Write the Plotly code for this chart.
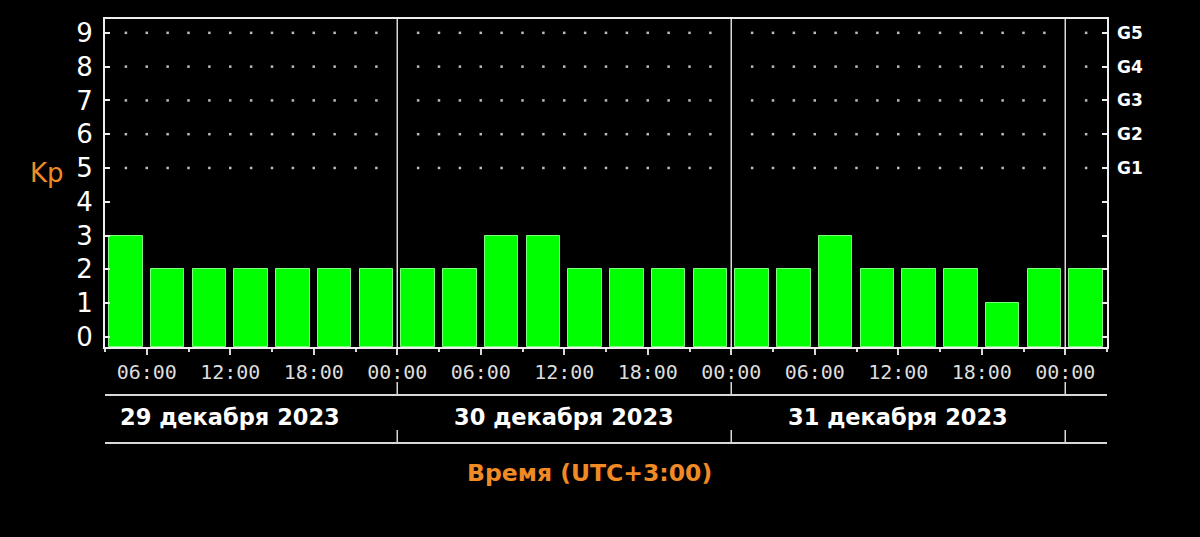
import numpy as np
import pandas as pd
import plotly.graph_objects as go

# Kp index, 3-hour intervals, local time UTC+3
start_time = "2023-12-29 03:00"
end_time = "2024-01-01 03:00"
kp_values = [3, 2, 2, 2, 2, 2, 2,
             2, 2, 3, 3, 2, 2, 2, 2,
             2, 2, 3, 2, 2, 2, 1, 2,
             2]
day_labels = ["29 декабря 2023", "30 декабря 2023", "31 декабря 2023"]
day_noons = ["2023-12-29 12:00", "2023-12-30 12:00", "2023-12-31 12:00"]
day_bounds = ["2023-12-30 00:00", "2023-12-31 00:00", "2024-01-01 00:00"]
kp_ticks = [0, 1, 2, 3, 4, 5, 6, 7, 8, 9]
storm_ticks = [5, 6, 7, 8, 9]
storm_labels = ["G1", "G2", "G3", "G4", "G5"]

Y_MIN, Y_MAX = -0.3, 9.41
HOUR_MS = 3600 * 1000
LINE = "#d9d9d9"
ORANGE = "#f08a24"

bin_start = pd.date_range(start_time, periods=len(kp_values), freq="3h")
bin_mid = bin_start + pd.Timedelta(hours=1.5)

# dotted grid: every 1.5 h at levels G1..G5, skipped on day boundaries
grid_t = pd.date_range(start_time, end_time, freq="90min")[1:-1]
grid_t = grid_t[~grid_t.isin(pd.to_datetime(day_bounds))]
gx, gy = np.meshgrid(grid_t, storm_ticks)

fig = go.Figure()
fig.add_trace(go.Bar(
    x=bin_mid, y=[k - Y_MIN for k in kp_values], base=Y_MIN,
    width=2.4 * HOUR_MS,
    marker=dict(color="#00ff00", line=dict(color="#7dff7d", width=1)),
    customdata=kp_values, hovertemplate="%{x|%d.%m %H:%M}<br>Kp %{customdata}<extra></extra>",
))
fig.add_trace(go.Scatter(
    x=gx.ravel(), y=gy.ravel(), yaxis="y2", mode="markers",
    marker=dict(color="#bdbdbd", size=2.5, symbol="square"),
    hoverinfo="skip",
))

shapes = []
for d in day_bounds:
    shapes.append(dict(type="line", xref="x", yref="paper", x0=d, x1=d, y0=0, y1=1,
                       line=dict(color=LINE, width=1.5)))
    shapes.append(dict(type="line", xref="x", yref="paper", x0=d, x1=d, y0=-0.107, y1=-0.146,
                       line=dict(color=LINE, width=1.5)))
    shapes.append(dict(type="line", xref="x", yref="paper", x0=d, x1=d, y0=-0.253, y1=-0.293,
                       line=dict(color=LINE, width=1.5)))
for yy in [-0.146, -0.293]:
    shapes.append(dict(type="line", xref="paper", yref="paper", x0=0, x1=1, y0=yy, y1=yy,
                       line=dict(color=LINE, width=2)))

annotations = [
    dict(x=t, y=-0.213, xref="x", yref="paper", text=lab, showarrow=False,
         xanchor="center", yanchor="middle",
         font=dict(family="DejaVu Sans", size=22.5, color="white", weight="bold"))
    for t, lab in zip(day_noons, day_labels)
]
annotations.append(dict(x=0.484, y=-0.384, xref="paper", yref="paper", text="Время (UTC+3:00)",
                        showarrow=False, xanchor="center", yanchor="middle",
                        font=dict(family="DejaVu Sans", size=23.5, color=ORANGE, weight="bold")))
annotations.append(dict(x=-0.0575, y=4.85, xref="paper", yref="y", text="Kp", showarrow=False,
                        xanchor="center", yanchor="middle",
                        font=dict(family="DejaVu Sans", size=26, color=ORANGE)))

fig.update_layout(
    width=1200, height=537,
    margin=dict(l=105, r=93, t=19, b=190),
    paper_bgcolor="black", plot_bgcolor="black",
    showlegend=False, bargap=0,
    shapes=shapes, annotations=annotations,
    xaxis=dict(
        type="date", range=[start_time, end_time],
        tick0="2023-12-29 00:00", dtick=6 * HOUR_MS, tickformat="%H:%M",
        ticks="outside", ticklen=6, tickcolor=LINE, tickwidth=1.5,
        minor=dict(tick0="2023-12-29 00:00", dtick=3 * HOUR_MS, ticks="outside",
                   ticklen=3, tickcolor=LINE, tickwidth=1.5),
        showline=True, mirror=True, linecolor="#eeeeee", linewidth=2,
        showgrid=False, zeroline=False, ticklabelstandoff=0,
        tickfont=dict(family="DejaVu Sans Mono", size=20, color="#dddddd"),
    ),
    yaxis=dict(
        range=[Y_MIN, Y_MAX], tickvals=kp_ticks,
        ticks="inside", ticklen=5, tickcolor="#eeeeee", tickwidth=1.5,
        showline=True, mirror="ticks", linecolor="#eeeeee", linewidth=2,
        showgrid=False, zeroline=False, ticklabelstandoff=5,
        tickfont=dict(family="DejaVu Sans", size=26, color="white"),
    ),
    yaxis2=dict(
        overlaying="y", side="right", range=[Y_MIN, Y_MAX],
        tickvals=storm_ticks, ticktext=storm_labels,
        showgrid=False, showline=False, zeroline=False, ticks="", ticklabelstandoff=9,
        tickfont=dict(family="DejaVu Sans", size=17, color="white", weight="bold"),
    ),
)

# page body margin would shift the black figure off the window corner
fig.write_html("out.html", config={"displayModeBar": False},
               post_script="document.body.style.margin='0';"
                           "document.body.style.background='black';")
